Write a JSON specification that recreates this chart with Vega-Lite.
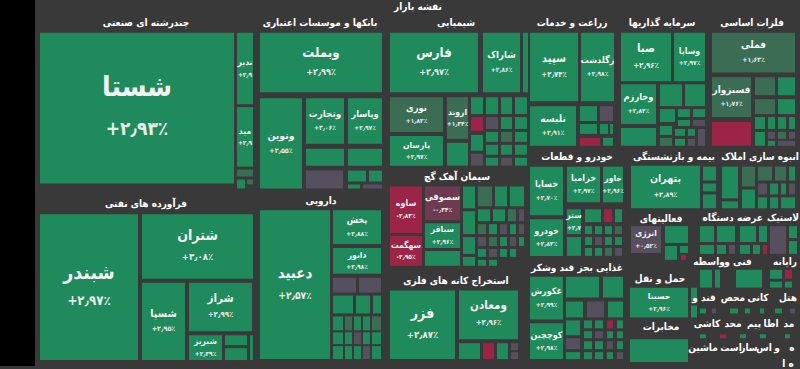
{
"$schema":"https://vega.github.io/schema/vega-lite/v6.json",
"width":800,"height":369,
"autosize":{"type":"fit","contains":"padding"},
"padding":0,
"background":"#393939",
"config":{"view":{"stroke":null},"font":"DejaVu Sans Condensed, DejaVu Sans"},
"datasets":{
"cells":[
{"x0":40,"x1":234,"y0":33,"y1":185,"chg":2.93,"name":"شستا","pct":"+۲٫۹۳٪"},
{"x0":237,"x1":253,"y0":33,"y1":105,"chg":2.9,"name":"ندیر","pct":"+۲٫۹"},
{"x0":237,"x1":253,"y0":108,"y1":168,"chg":2.9,"name":"مید","pct":"+۲٫۹"},
{"x0":237,"x1":253,"y0":171,"y1":178,"chg":1.5},
{"x0":237,"x1":245,"y0":181,"y1":190,"chg":2.9},
{"x0":247,"x1":253,"y0":181,"y1":186,"chg":1.5},
{"x0":40,"x1":138,"y0":216,"y1":363,"chg":2.97,"name":"شبندر","pct":"+۲٫۹۷٪"},
{"x0":142,"x1":253,"y0":216,"y1":281,"chg":3.08,"name":"شتران","pct":"+۳٫۰۸٪"},
{"x0":142,"x1":185,"y0":285,"y1":363,"chg":2.95,"name":"شسپا","pct":"+۲٫۹۵٪"},
{"x0":189,"x1":252,"y0":285,"y1":334,"chg":2.99,"name":"شراز","pct":"+۲٫۹۹٪"},
{"x0":189,"x1":222,"y0":338,"y1":363,"chg":2.39,"name":"شبریز","pct":"+۲٫۳۹٪"},
{"x0":225,"x1":247,"y0":338,"y1":348,"chg":2.9},
{"x0":225,"x1":247,"y0":351,"y1":363,"chg":2.9},
{"x0":250,"x1":253,"y0":338,"y1":363,"chg":2.9},
{"x0":260,"x1":382,"y0":33,"y1":93,"chg":2.99,"name":"وبملت","pct":"+۲٫۹۹٪"},
{"x0":260,"x1":302,"y0":99,"y1":190,"chg":2.55,"name":"ونوین","pct":"+۲٫۵۵٪"},
{"x0":306,"x1":344,"y0":99,"y1":145,"chg":3.06,"name":"وتجارت","pct":"+۳٫۰۶٪"},
{"x0":348,"x1":382,"y0":99,"y1":145,"chg":2.97,"name":"وپاسار","pct":"+۲٫۹۷٪"},
{"x0":306,"x1":344,"y0":150,"y1":167,"chg":2.9},
{"x0":348,"x1":382,"y0":150,"y1":167,"chg":2.9},
{"x0":306,"x1":343,"y0":172,"y1":190,"chg":0.3},
{"x0":348,"x1":366,"y0":172,"y1":183,"chg":2.9},
{"x0":369,"x1":382,"y0":172,"y1":183,"chg":2.9},
{"x0":348,"x1":360,"y0":186,"y1":190,"chg":2.9},
{"x0":363,"x1":382,"y0":186,"y1":190,"chg":0.3},
{"x0":260,"x1":330,"y0":212,"y1":362,"chg":2.57,"name":"دعبید","pct":"+۲٫۵۷٪"},
{"x0":333,"x1":381,"y0":212,"y1":246,"chg":2.88,"name":"پخش","pct":"+۲٫۸۸٪"},
{"x0":333,"x1":381,"y0":250,"y1":276,"chg":2.98,"name":"دابور","pct":"+۲٫۹۸٪"},
{"x0":333,"x1":356,"y0":280,"y1":295,"chg":0.3},
{"x0":359,"x1":381,"y0":280,"y1":295,"chg":0.3},
{"x0":333,"x1":353,"y0":298,"y1":316,"chg":2.9},
{"x0":356,"x1":370,"y0":298,"y1":316,"chg":2.9},
{"x0":373,"x1":381,"y0":298,"y1":316,"chg":2.9},
{"x0":333,"x1":343,"y0":319,"y1":333,"chg":2.9},
{"x0":345,"x1":352,"y0":319,"y1":333,"chg":1.5},
{"x0":354,"x1":361,"y0":319,"y1":333,"chg":2.9},
{"x0":363,"x1":370,"y0":319,"y1":333,"chg":2.9},
{"x0":372,"x1":381,"y0":319,"y1":333,"chg":1.5},
{"x0":333,"x1":343,"y0":335,"y1":347,"chg":2.9},
{"x0":345,"x1":352,"y0":335,"y1":347,"chg":2.9},
{"x0":354,"x1":361,"y0":335,"y1":347,"chg":0.3},
{"x0":363,"x1":370,"y0":335,"y1":347,"chg":2.9},
{"x0":372,"x1":381,"y0":335,"y1":347,"chg":2.9},
{"x0":333,"x1":343,"y0":349,"y1":362,"chg":2.9},
{"x0":345,"x1":352,"y0":349,"y1":362,"chg":2.9},
{"x0":354,"x1":361,"y0":349,"y1":362,"chg":2.9},
{"x0":363,"x1":370,"y0":349,"y1":362,"chg":0.3},
{"x0":372,"x1":381,"y0":349,"y1":362,"chg":2.9},
{"x0":390,"x1":478,"y0":33,"y1":93,"chg":2.97,"name":"فارس","pct":"+۲٫۹۷٪"},
{"x0":483,"x1":520,"y0":33,"y1":93,"chg":2.86,"name":"شاراک","pct":"+۲٫۸۶٪"},
{"x0":523,"x1":528,"y0":33,"y1":93,"chg":2.9},
{"x0":390,"x1":443,"y0":98,"y1":133,"chg":1.82,"name":"نوری","pct":"+۱٫۸۲٪"},
{"x0":447,"x1":468,"y0":98,"y1":140,"chg":1.34,"name":"اروند","pct":"+۱٫۳۴٪"},
{"x0":390,"x1":443,"y0":137,"y1":167,"chg":2.97,"name":"پارسان","pct":"+۲٫۹۷٪"},
{"x0":447,"x1":468,"y0":144,"y1":167,"chg":2.9},
{"x0":471,"x1":483,"y0":98,"y1":115,"chg":2.9},
{"x0":471,"x1":483,"y0":118,"y1":132,"chg":-2.5},
{"x0":471,"x1":483,"y0":136,"y1":152,"chg":2.9},
{"x0":471,"x1":483,"y0":155,"y1":167,"chg":0.3},
{"x0":486,"x1":498,"y0":98,"y1":115,"chg":2.9},
{"x0":486,"x1":498,"y0":118,"y1":130,"chg":0.3},
{"x0":486,"x1":498,"y0":133,"y1":143,"chg":2.9},
{"x0":486,"x1":498,"y0":146,"y1":156,"chg":2.9},
{"x0":486,"x1":498,"y0":159,"y1":167,"chg":2.9},
{"x0":501,"x1":512,"y0":98,"y1":115,"chg":2.9},
{"x0":501,"x1":512,"y0":118,"y1":130,"chg":2.9},
{"x0":501,"x1":512,"y0":133,"y1":143,"chg":1.5},
{"x0":501,"x1":512,"y0":146,"y1":156,"chg":2.9},
{"x0":501,"x1":512,"y0":159,"y1":167,"chg":0.3},
{"x0":515,"x1":527,"y0":98,"y1":115,"chg":2.9},
{"x0":515,"x1":527,"y0":118,"y1":130,"chg":2.9},
{"x0":515,"x1":527,"y0":133,"y1":143,"chg":2.9},
{"x0":515,"x1":527,"y0":146,"y1":156,"chg":2.9},
{"x0":515,"x1":527,"y0":159,"y1":167,"chg":2.9},
{"x0":390,"x1":422,"y0":188,"y1":235,"chg":-2.83,"name":"ساوه","pct":"-۲٫۸۳٪"},
{"x0":390,"x1":422,"y0":238,"y1":268,"chg":-2.95,"name":"سهگمت","pct":"-۲٫۹۵٪"},
{"x0":425,"x1":460,"y0":188,"y1":222,"chg":-0.34,"name":"سصوفی","pct":"-۰٫۳۴٪"},
{"x0":425,"x1":460,"y0":225,"y1":250,"chg":2.96,"name":"سباقر","pct":"+۲٫۹۶٪"},
{"x0":425,"x1":460,"y0":253,"y1":268,"chg":2.9},
{"x0":463,"x1":475,"y0":188,"y1":210,"chg":2.9},
{"x0":463,"x1":475,"y0":213,"y1":236,"chg":2.9},
{"x0":463,"x1":475,"y0":239,"y1":256,"chg":2.9},
{"x0":463,"x1":475,"y0":259,"y1":268,"chg":2.9},
{"x0":478,"x1":492,"y0":188,"y1":208,"chg":1.5},
{"x0":495,"x1":507,"y0":188,"y1":208,"chg":2.9},
{"x0":510,"x1":524,"y0":188,"y1":208,"chg":2.9},
{"x0":478,"x1":490,"y0":211,"y1":223,"chg":2.9},
{"x0":493,"x1":505,"y0":211,"y1":223,"chg":2.9},
{"x0":508,"x1":516,"y0":211,"y1":223,"chg":1.5},
{"x0":519,"x1":524,"y0":211,"y1":223,"chg":0.3},
{"x0":478,"x1":486,"y0":226,"y1":236,"chg":1.5},
{"x0":489,"x1":497,"y0":226,"y1":236,"chg":2.9},
{"x0":500,"x1":507,"y0":226,"y1":236,"chg":0.3},
{"x0":510,"x1":516,"y0":226,"y1":236,"chg":2.9},
{"x0":519,"x1":524,"y0":226,"y1":236,"chg":0.3},
{"x0":478,"x1":486,"y0":239,"y1":248,"chg":0.3},
{"x0":489,"x1":497,"y0":239,"y1":248,"chg":1.5},
{"x0":500,"x1":507,"y0":239,"y1":248,"chg":2.9},
{"x0":510,"x1":516,"y0":239,"y1":248,"chg":0.3},
{"x0":519,"x1":524,"y0":239,"y1":248,"chg":2.9},
{"x0":478,"x1":486,"y0":251,"y1":259,"chg":2.9},
{"x0":489,"x1":497,"y0":251,"y1":259,"chg":0.3},
{"x0":500,"x1":507,"y0":251,"y1":259,"chg":2.9},
{"x0":510,"x1":516,"y0":251,"y1":259,"chg":2.9},
{"x0":478,"x1":486,"y0":262,"y1":268,"chg":2.9},
{"x0":489,"x1":497,"y0":262,"y1":268,"chg":2.9},
{"x0":390,"x1":455,"y0":293,"y1":362,"chg":2.87,"name":"فزر","pct":"+۲٫۸۷٪"},
{"x0":459,"x1":518,"y0":293,"y1":342,"chg":2.96,"name":"ومعادن","pct":"+۲٫۹۶٪"},
{"x0":459,"x1":480,"y0":346,"y1":362,"chg":2.9},
{"x0":483,"x1":494,"y0":346,"y1":362,"chg":-2.5},
{"x0":497,"x1":508,"y0":346,"y1":362,"chg":2.9},
{"x0":511,"x1":518,"y0":346,"y1":353,"chg":0.3},
{"x0":511,"x1":518,"y0":355,"y1":362,"chg":0.3},
{"x0":530,"x1":578,"y0":33,"y1":102,"chg":2.74,"name":"سپید","pct":"+۲٫۷۴٪"},
{"x0":581,"x1":614,"y0":33,"y1":102,"chg":2.98,"name":"زگلدشت","pct":"+۲٫۹۸٪"},
{"x0":530,"x1":576,"y0":107,"y1":147,"chg":2.91,"name":"تلیسه","pct":"+۲٫۹۱٪"},
{"x0":580,"x1":597,"y0":107,"y1":122,"chg":2.9},
{"x0":600,"x1":613,"y0":107,"y1":122,"chg":0.3},
{"x0":580,"x1":597,"y0":125,"y1":135,"chg":2.9},
{"x0":600,"x1":608,"y0":125,"y1":135,"chg":2.9},
{"x0":610,"x1":613,"y0":125,"y1":135,"chg":2.9},
{"x0":580,"x1":600,"y0":139,"y1":147,"chg":-2.5},
{"x0":603,"x1":613,"y0":139,"y1":147,"chg":2.9},
{"x0":621,"x1":671,"y0":33,"y1":82,"chg":2.96,"name":"صبا","pct":"+۲٫۹۶٪"},
{"x0":674,"x1":705,"y0":33,"y1":82,"chg":2.97,"name":"وساپا","pct":"+۲٫۹۷٪"},
{"x0":621,"x1":656,"y0":85,"y1":125,"chg":2.83,"name":"وخارزم","pct":"+۲٫۸۳٪"},
{"x0":660,"x1":682,"y0":85,"y1":107,"chg":2.9},
{"x0":685,"x1":705,"y0":85,"y1":107,"chg":2.9},
{"x0":660,"x1":675,"y0":110,"y1":123,"chg":2.9},
{"x0":678,"x1":690,"y0":110,"y1":118,"chg":2.9},
{"x0":693,"x1":705,"y0":110,"y1":118,"chg":2.9},
{"x0":678,"x1":690,"y0":121,"y1":127,"chg":2.9},
{"x0":693,"x1":705,"y0":121,"y1":127,"chg":0.3},
{"x0":621,"x1":656,"y0":129,"y1":147,"chg":2.9},
{"x0":660,"x1":672,"y0":127,"y1":136,"chg":2.9},
{"x0":660,"x1":672,"y0":139,"y1":147,"chg":1.5},
{"x0":675,"x1":685,"y0":130,"y1":137,"chg":2.9},
{"x0":688,"x1":695,"y0":130,"y1":137,"chg":2.9},
{"x0":675,"x1":685,"y0":140,"y1":147,"chg":2.9},
{"x0":688,"x1":695,"y0":140,"y1":147,"chg":0.3},
{"x0":698,"x1":705,"y0":130,"y1":147,"chg":0.3},
{"x0":712,"x1":795,"y0":33,"y1":73,"chg":1.63,"name":"فملی","pct":"+۱٫۶۳٪"},
{"x0":712,"x1":751,"y0":78,"y1":118,"chg":1.76,"name":"فسبزوار","pct":"+۱٫۷۶٪"},
{"x0":712,"x1":751,"y0":123,"y1":147,"chg":-2.6},
{"x0":755,"x1":775,"y0":78,"y1":96,"chg":1.5},
{"x0":778,"x1":795,"y0":78,"y1":96,"chg":2.9},
{"x0":755,"x1":775,"y0":100,"y1":115,"chg":1.5},
{"x0":778,"x1":795,"y0":100,"y1":115,"chg":2.9},
{"x0":755,"x1":765,"y0":118,"y1":130,"chg":2.9},
{"x0":768,"x1":775,"y0":118,"y1":130,"chg":2.9},
{"x0":778,"x1":786,"y0":118,"y1":130,"chg":2.9},
{"x0":789,"x1":795,"y0":118,"y1":130,"chg":2.9},
{"x0":755,"x1":765,"y0":133,"y1":147,"chg":2.9},
{"x0":768,"x1":775,"y0":133,"y1":140,"chg":0.3},
{"x0":778,"x1":786,"y0":133,"y1":140,"chg":1.5},
{"x0":789,"x1":795,"y0":133,"y1":140,"chg":0.3},
{"x0":768,"x1":775,"y0":142,"y1":147,"chg":2.9},
{"x0":778,"x1":795,"y0":142,"y1":147,"chg":0.3},
{"x0":530,"x1":563,"y0":168,"y1":217,"chg":2.70,"name":"خساپا","pct":"+۲٫۷۰٪"},
{"x0":530,"x1":563,"y0":221,"y1":258,"chg":2.83,"name":"خودرو","pct":"+۲٫۸۳٪"},
{"x0":567,"x1":600,"y0":168,"y1":204,"chg":2.97,"name":"خزامیا","pct":"+۲٫۹۷٪"},
{"x0":603,"x1":623,"y0":168,"y1":204,"chg":2.96,"name":"خاور","pct":"+۲٫۹۶٪"},
{"x0":567,"x1":581,"y0":211,"y1":236,"chg":2.7,"name":"ستر","pct":"+۲٫۷"},
{"x0":585,"x1":601,"y0":211,"y1":224,"chg":2.9},
{"x0":604,"x1":612,"y0":211,"y1":224,"chg":-2.5},
{"x0":615,"x1":622,"y0":211,"y1":224,"chg":2.9},
{"x0":585,"x1":592,"y0":228,"y1":236,"chg":2.9},
{"x0":595,"x1":602,"y0":228,"y1":236,"chg":2.9},
{"x0":605,"x1":612,"y0":228,"y1":236,"chg":2.9},
{"x0":615,"x1":622,"y0":228,"y1":236,"chg":1.5},
{"x0":567,"x1":581,"y0":239,"y1":258,"chg":2.9},
{"x0":585,"x1":592,"y0":239,"y1":247,"chg":2.9},
{"x0":595,"x1":602,"y0":239,"y1":247,"chg":0.3},
{"x0":605,"x1":612,"y0":239,"y1":247,"chg":2.9},
{"x0":615,"x1":622,"y0":239,"y1":247,"chg":2.9},
{"x0":585,"x1":592,"y0":250,"y1":258,"chg":2.9},
{"x0":595,"x1":602,"y0":250,"y1":258,"chg":2.9},
{"x0":605,"x1":612,"y0":250,"y1":258,"chg":1.5},
{"x0":615,"x1":622,"y0":250,"y1":258,"chg":0.3},
{"x0":631,"x1":700,"y0":167,"y1":210,"chg":2.89,"name":"بتهران","pct":"+۲٫۸۹٪"},
{"x0":703,"x1":716,"y0":168,"y1":182,"chg":2.9},
{"x0":703,"x1":716,"y0":185,"y1":193,"chg":2.9},
{"x0":703,"x1":716,"y0":196,"y1":210,"chg":2.9},
{"x0":722,"x1":738,"y0":168,"y1":200,"chg":2.9},
{"x0":722,"x1":738,"y0":203,"y1":210,"chg":2.9},
{"x0":742,"x1":755,"y0":168,"y1":188,"chg":1.5},
{"x0":742,"x1":755,"y0":191,"y1":210,"chg":2.9},
{"x0":758,"x1":772,"y0":168,"y1":182,"chg":1.5},
{"x0":775,"x1":786,"y0":168,"y1":182,"chg":1.5},
{"x0":789,"x1":795,"y0":168,"y1":182,"chg":2.9},
{"x0":758,"x1":767,"y0":185,"y1":196,"chg":0.3},
{"x0":770,"x1":778,"y0":185,"y1":196,"chg":2.9},
{"x0":781,"x1":786,"y0":185,"y1":196,"chg":2.9},
{"x0":789,"x1":795,"y0":185,"y1":196,"chg":0.3},
{"x0":758,"x1":767,"y0":199,"y1":210,"chg":2.9},
{"x0":770,"x1":778,"y0":199,"y1":210,"chg":2.9},
{"x0":781,"x1":795,"y0":199,"y1":210,"chg":2.9},
{"x0":631,"x1":661,"y0":228,"y1":255,"chg":0.52,"name":"انرژی","pct":"+۰٫۵۲٪"},
{"x0":665,"x1":688,"y0":228,"y1":245,"chg":2.9},
{"x0":665,"x1":677,"y0":248,"y1":262,"chg":2.9},
{"x0":680,"x1":688,"y0":248,"y1":255,"chg":2.9},
{"x0":681,"x1":686,"y0":257,"y1":262,"chg":-2.5},
{"x0":700,"x1":714,"y0":228,"y1":244,"chg":2.9},
{"x0":717,"x1":735,"y0":228,"y1":244,"chg":2.9},
{"x0":700,"x1":714,"y0":247,"y1":256,"chg":2.9},
{"x0":717,"x1":726,"y0":247,"y1":256,"chg":2.9},
{"x0":729,"x1":735,"y0":247,"y1":256,"chg":0.3},
{"x0":740,"x1":756,"y0":228,"y1":244,"chg":2.9},
{"x0":759,"x1":767,"y0":228,"y1":244,"chg":2.9},
{"x0":740,"x1":750,"y0":247,"y1":256,"chg":2.9},
{"x0":753,"x1":760,"y0":247,"y1":256,"chg":2.9},
{"x0":763,"x1":767,"y0":247,"y1":256,"chg":-2.5},
{"x0":770,"x1":786,"y0":228,"y1":256,"chg":0.3},
{"x0":789,"x1":797,"y0":228,"y1":240,"chg":2.9},
{"x0":789,"x1":797,"y0":243,"y1":256,"chg":2.9},
{"x0":700,"x1":712,"y0":272,"y1":290,"chg":2.9},
{"x0":715,"x1":720,"y0":272,"y1":290,"chg":2.9},
{"x0":736,"x1":762,"y0":272,"y1":290,"chg":2.9},
{"x0":770,"x1":782,"y0":272,"y1":281,"chg":2.9},
{"x0":785,"x1":792,"y0":272,"y1":281,"chg":-2.5},
{"x0":770,"x1":782,"y0":284,"y1":290,"chg":2.9},
{"x0":785,"x1":792,"y0":284,"y1":290,"chg":2.9},
{"x0":630,"x1":688,"y0":290,"y1":320,"chg":2.96,"name":"حسینا","pct":"+۲٫۹۶٪"},
{"x0":691,"x1":697,"y0":290,"y1":305,"chg":2.9},
{"x0":691,"x1":697,"y0":308,"y1":320,"chg":2.9},
{"x0":700,"x1":706,"y0":311,"y1":316,"chg":2.9},
{"x0":712,"x1":716,"y0":311,"y1":316,"chg":0.3},
{"x0":730,"x1":738,"y0":311,"y1":316,"chg":2.9},
{"x0":745,"x1":750,"y0":311,"y1":316,"chg":2.9},
{"x0":760,"x1":764,"y0":311,"y1":316,"chg":2.9},
{"x0":775,"x1":782,"y0":311,"y1":316,"chg":2.9},
{"x0":790,"x1":795,"y0":311,"y1":316,"chg":0.3},
{"x0":700,"x1":706,"y0":337,"y1":341,"chg":2.9},
{"x0":720,"x1":726,"y0":337,"y1":341,"chg":-2.5},
{"x0":740,"x1":746,"y0":337,"y1":341,"chg":2.9},
{"x0":760,"x1":766,"y0":337,"y1":341,"chg":2.9},
{"x0":785,"x1":790,"y0":337,"y1":341,"chg":2.9},
{"x0":630,"x1":688,"y0":342,"y1":365,"chg":2.9},
{"x0":530,"x1":563,"y0":279,"y1":322,"chg":2.99,"name":"غکورش","pct":"+۲٫۹۹٪"},
{"x0":530,"x1":563,"y0":326,"y1":362,"chg":2.98,"name":"کوچچین","pct":"+۲٫۹۸٪"},
{"x0":566,"x1":599,"y0":279,"y1":300,"chg":2.9},
{"x0":603,"x1":623,"y0":279,"y1":300,"chg":2.9},
{"x0":566,"x1":583,"y0":304,"y1":320,"chg":2.9},
{"x0":587,"x1":604,"y0":304,"y1":320,"chg":0.3},
{"x0":608,"x1":623,"y0":304,"y1":320,"chg":2.9},
{"x0":566,"x1":580,"y0":323,"y1":338,"chg":2.9},
{"x0":584,"x1":592,"y0":323,"y1":331,"chg":2.9},
{"x0":595,"x1":603,"y0":323,"y1":331,"chg":2.9},
{"x0":607,"x1":613,"y0":323,"y1":331,"chg":-2.5},
{"x0":617,"x1":623,"y0":323,"y1":331,"chg":2.9},
{"x0":584,"x1":592,"y0":334,"y1":341,"chg":2.9},
{"x0":595,"x1":603,"y0":334,"y1":341,"chg":0.3},
{"x0":607,"x1":613,"y0":334,"y1":341,"chg":2.9},
{"x0":617,"x1":623,"y0":334,"y1":341,"chg":2.9},
{"x0":566,"x1":580,"y0":341,"y1":352,"chg":0.3},
{"x0":584,"x1":592,"y0":344,"y1":352,"chg":2.9},
{"x0":595,"x1":603,"y0":344,"y1":352,"chg":2.9},
{"x0":607,"x1":613,"y0":344,"y1":352,"chg":0.3},
{"x0":617,"x1":623,"y0":344,"y1":352,"chg":2.9},
{"x0":566,"x1":580,"y0":355,"y1":362,"chg":2.9},
{"x0":584,"x1":592,"y0":355,"y1":362,"chg":2.9},
{"x0":595,"x1":603,"y0":355,"y1":362,"chg":2.9},
{"x0":607,"x1":613,"y0":355,"y1":362,"chg":2.9},
{"x0":617,"x1":623,"y0":355,"y1":362,"chg":0.3}
],
"heads":[
{"t":"نقشه بازار","x":418,"y":7},
{"t":"چندرشته ای صنعتی","x":146,"y":23},
{"t":"فرآورده های نفتی","x":146,"y":206},
{"t":"بانکها و موسسات اعتباری","x":320,"y":23},
{"t":"دارویی","x":321,"y":203},
{"t":"شیمیایی","x":456,"y":23},
{"t":"سیمان آهک گچ","x":457,"y":178},
{"t":"استخراج کانه های فلزی","x":456,"y":283},
{"t":"زراعت و خدمات","x":572,"y":23},
{"t":"سرمایه گذاریها","x":662,"y":23},
{"t":"فلزات اساسی","x":752,"y":23},
{"t":"خودرو و قطعات","x":577,"y":158},
{"t":"بیمه و بازنشستگی","x":674,"y":158},
{"t":"انبوه سازی املاک","x":760,"y":158},
{"t":"غذایی بجز قند وشکر","x":577,"y":270},
{"t":"فعالیتهای","x":661,"y":221},
{"t":"دستگاه","x":718,"y":220},
{"t":"عرضه","x":750,"y":220},
{"t":"لاستیک","x":783,"y":220},
{"t":"واسطه","x":709,"y":264},
{"t":"فنی و","x":738,"y":264},
{"t":"رایانه","x":785,"y":264},
{"t":"حمل و نقل","x":660,"y":281},
{"t":"مخابرات","x":661,"y":330},
{"t":"قند و","x":704,"y":300},
{"t":"محص","x":733,"y":300},
{"t":"کانی","x":758,"y":300},
{"t":"هتل","x":788,"y":300},
{"t":"کاشی","x":707,"y":327},
{"t":"محد","x":733,"y":327},
{"t":"پیم","x":754,"y":327},
{"t":"اطا","x":771,"y":327},
{"t":"مد","x":789,"y":327},
{"t":"ماشین","x":703,"y":351},
{"t":"است","x":731,"y":351},
{"t":"ساز","x":749,"y":351},
{"t":"اس","x":764,"y":351},
{"t":"و","x":777,"y":351},
{"t":"ه","x":792,"y":351},
{"t":"ه ا","x":788,"y":367}
]
},
"layer":[
{"data":{"values":[{"x0":0,"x1":35,"y0":0,"y1":369}]},
 "mark":{"type":"rect","color":"#000000"},
 "encoding":{
  "x":{"field":"x0","type":"quantitative","scale":{"domain":[0,800],"nice":false,"zero":false},"axis":null},
  "x2":{"field":"x1"},
  "y":{"field":"y0","type":"quantitative","scale":{"domain":[0,369],"reverse":true,"nice":false,"zero":false},"axis":null},
  "y2":{"field":"y1"}}},
{"data":{"name":"cells"},
 "mark":{"type":"rect"},
 "encoding":{
  "x":{"field":"x0","type":"quantitative","scale":{"domain":[0,800],"nice":false,"zero":false},"axis":null},
  "x2":{"field":"x1"},
  "y":{"field":"y0","type":"quantitative","scale":{"domain":[0,369],"reverse":true,"nice":false,"zero":false},"axis":null},
  "y2":{"field":"y1"},
  "color":{"field":"chg","type":"quantitative","legend":null,
   "scale":{"type":"threshold","domain":[-1,0,1,2],"range":["#9c2447","#6d3a50","#554f5e","#3b6d55","#1f8a5b"]}}}},
{"data":{"name":"cells"},
 "transform":[
  {"filter":"datum.name"},
  {"calculate":"(datum.x0+datum.x1)/2","as":"xc"},
  {"calculate":"min(datum.x1-datum.x0,datum.y1-datum.y0)","as":"m"},
  {"calculate":"clamp(8.5+0.16*(datum.m-30),8.5,28)","as":"fs"},
  {"calculate":"(datum.y0+datum.y1)/2-0.74*datum.fs","as":"yn"}],
 "mark":{"type":"text","color":"#f4f4f4","fontWeight":"bold","align":"center","baseline":"middle"},
 "encoding":{
  "x":{"field":"xc","type":"quantitative","scale":{"domain":[0,800],"nice":false,"zero":false},"axis":null},
  "y":{"field":"yn","type":"quantitative","scale":{"domain":[0,369],"reverse":true,"nice":false,"zero":false},"axis":null},
  "size":{"field":"fs","type":"quantitative","scale":null,"legend":null},
  "text":{"field":"name","type":"nominal"}}},
{"data":{"name":"cells"},
 "transform":[
  {"filter":"datum.pct"},
  {"calculate":"(datum.x0+datum.x1)/2","as":"xc"},
  {"calculate":"min(datum.x1-datum.x0,datum.y1-datum.y0)","as":"m"},
  {"calculate":"clamp(8.5+0.16*(datum.m-30),8.5,28)","as":"fs"},
  {"calculate":"max(6.5,0.68*datum.fs)","as":"fs2"},
  {"calculate":"(datum.y0+datum.y1)/2+0.74*datum.fs","as":"yp"}],
 "mark":{"type":"text","color":"#eaeaea","fontWeight":"bold","align":"center","baseline":"middle"},
 "encoding":{
  "x":{"field":"xc","type":"quantitative","scale":{"domain":[0,800],"nice":false,"zero":false},"axis":null},
  "y":{"field":"yp","type":"quantitative","scale":{"domain":[0,369],"reverse":true,"nice":false,"zero":false},"axis":null},
  "size":{"field":"fs2","type":"quantitative","scale":null,"legend":null},
  "text":{"field":"pct","type":"nominal"}}},
{"data":{"name":"heads"},
 "mark":{"type":"text","color":"#ffffff","fontSize":10,"fontWeight":"bold","align":"center","baseline":"middle"},
 "encoding":{
  "x":{"field":"x","type":"quantitative","scale":{"domain":[0,800],"nice":false,"zero":false},"axis":null},
  "y":{"field":"y","type":"quantitative","scale":{"domain":[0,369],"reverse":true,"nice":false,"zero":false},"axis":null},
  "text":{"field":"t","type":"nominal"}}}
]
}
